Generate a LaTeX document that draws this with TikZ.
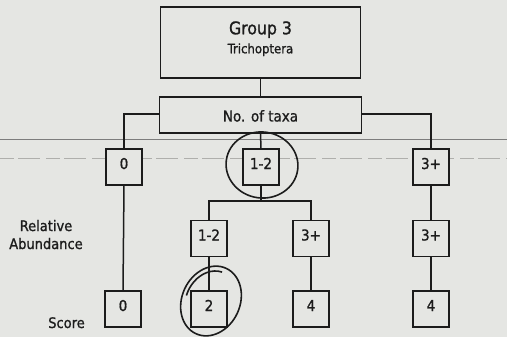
\documentclass[tikz,border=0pt]{standalone}
\usepackage{fontspec}
\setmainfont{DejaVu Sans Condensed}[FakeBold=1.1]
\definecolor{paper}{RGB}{229,230,227}
\definecolor{ink}{RGB}{28,28,28}
\definecolor{crease}{RGB}{125,125,125}
\definecolor{faint}{RGB}{175,175,172}

\tikzset{
  box/.style={draw=ink, fill=paper, rectangle, line width=1.5pt,
    minimum width=36pt, minimum height=36pt, inner sep=0pt,
    text height=12pt, text depth=8pt, text=ink,
    font=\fontsize{15}{18}\selectfont},
  bigbox/.style={draw=ink, fill=paper, rectangle, line width=1.5pt, inner sep=0pt},
  label/.style={anchor=base, inner sep=0pt, text=ink},
  link/.style={draw=ink, line width=1.5pt},
  pen/.style={draw=ink, line width=1.6pt},
}

\begin{document}
\begin{tikzpicture}[x=1pt, y=-1pt]
  % page
  \fill[paper] (0,0) rectangle (507,337);
  \useasboundingbox (0,0) rectangle (507,337);

  % fold line and faint ruling across the sheet
  \draw[crease, line width=0.9pt] (0,139.5) -- (507,139.5);
  \draw[faint, line width=0.8pt, dash pattern=on 14pt off 4pt on 22pt off 6pt]
    (0,158.5) -- (507,158.5);

  % header boxes
  \node[bigbox, minimum width=200pt, minimum height=71pt] (group) at (260.5,42.5) {};
  \node[label, font=\fontsize{17.5}{20}\selectfont] (grouptitle) at (260.5,34.3) {Group 3};
  \node[label, font=\fontsize{13}{15}\selectfont] (order) at (260.5,53.3) {Trichoptera};

  \node[bigbox, minimum width=202pt, minimum height=36pt] (taxa) at (260.5,115) {};
  \node[label, font=\fontsize{15}{18}\selectfont] (taxatext) at (260.5,121.5) {No. of taxa};

  % number of taxa
  \node[box] (t0)  at (124,167) {0};
  \node[box] (t12) at (261,167) {1-2};
  \node[box] (t3)  at (431,167) {3+};

  % relative abundance
  \node[box] (r12a) at (209,238.5) {1-2};
  \node[box] (r3a)  at (311,238.5) {3+};
  \node[box] (r3b)  at (431,238.5) {3+};

  % scores
  \node[box] (s0)  at (123,309) {0};
  \node[box] (s2)  at (209,309) {2};
  \node[box] (s4a) at (311,309) {4};
  \node[box] (s4b) at (431,309) {4};

  % row captions
  \node[label, align=center, font=\fontsize{14.5}{18}\selectfont] (relab) at (46,249) {Relative\\Abundance};
  \node[label, font=\fontsize{14.5}{17}\selectfont] (score) at (66.5,328) {Score};

  % connectors
  \coordinate (fork) at (261,201);
  \draw[link] (group.south) -- (taxa.north);
  \draw[link] ([yshift=1pt]taxa.west) -| (t0.north);
  \draw[link] ([yshift=1pt]taxa.east) -| (t3.north);
  \draw[link] (taxa.south) -- (t12.north);
  \draw[link] (t0.south) -- (s0.north);
  \draw[link] (t12.south) -- (fork);
  \draw[link] (r12a.north) |- (fork) -| (r3a.north);
  \draw[link] (t3.south) -- (r3b.north);
  \draw[link] (r12a.south) -- (s2.north);
  \draw[link] (r3a.south) -- (s4a.north);
  \draw[link] (r3b.south) -- (s4b.north);

  % hand-drawn rings round the chosen path
  \begin{scope}[shift={(262,165)}, rotate=-8]
    \draw[pen] (0,0) ellipse [x radius=36pt, y radius=33pt];
  \end{scope}
  \begin{scope}[shift={(211,301)}, rotate=-25]
    \draw[pen] (0,0) ellipse [x radius=29pt, y radius=36pt];
    \draw[pen] (190:25pt and 31pt) arc [start angle=190, end angle=95, x radius=25pt, y radius=31pt];
  \end{scope}
\end{tikzpicture}
\end{document}
